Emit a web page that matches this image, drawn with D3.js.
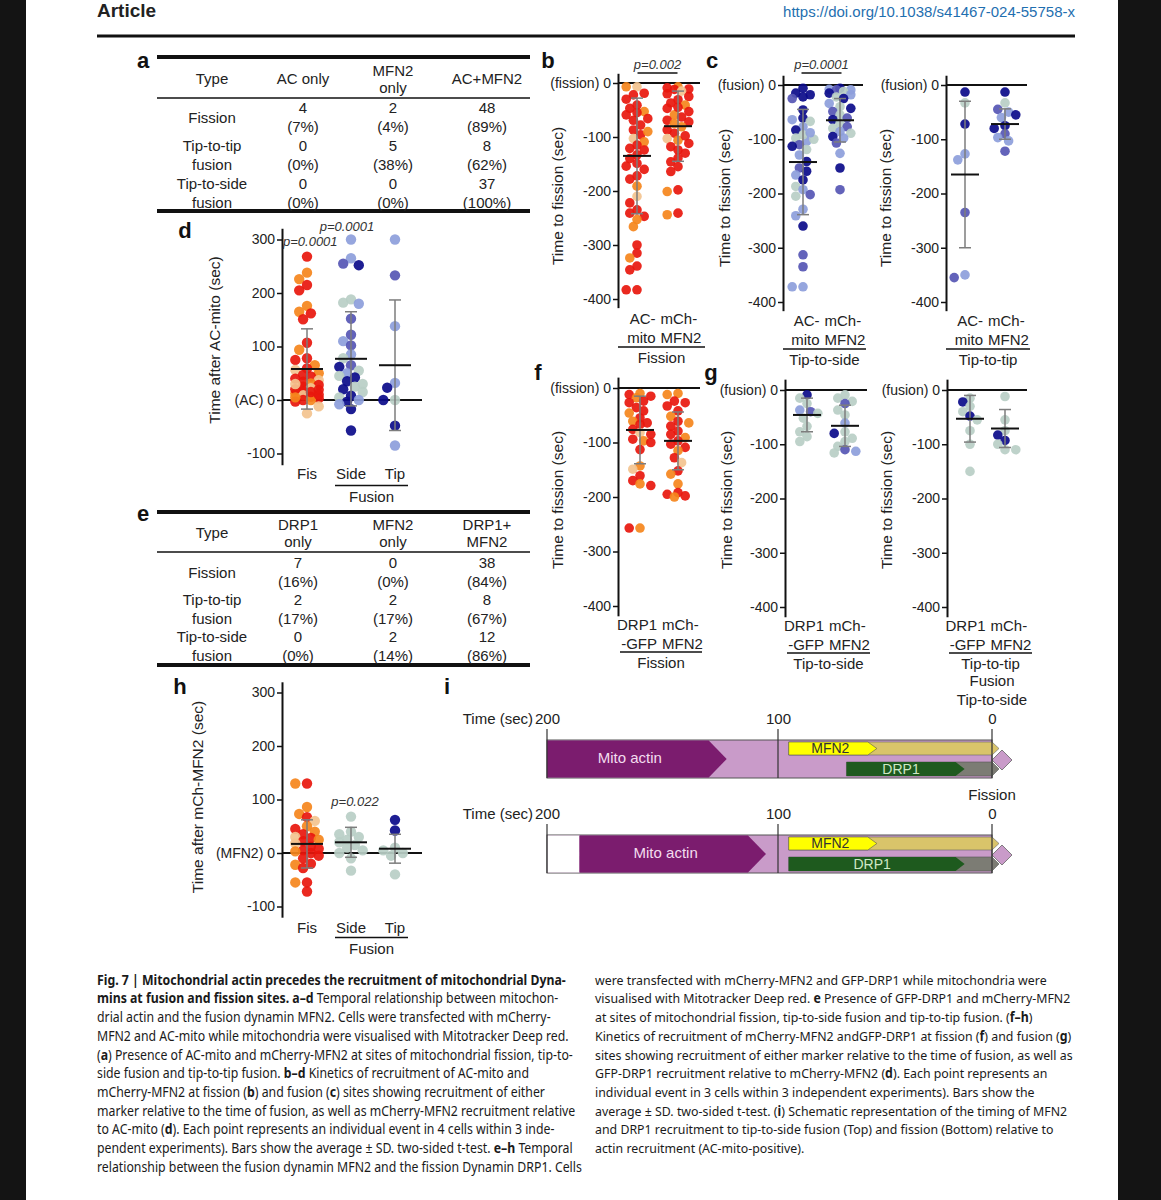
<!DOCTYPE html>
<html>
<head>
<meta charset="utf-8">
<script src="https://cdn.jsdelivr.net/npm/d3@7"></script>
<style>
body { margin: 0; background: #141414; }
svg { display: block; }
</style>
</head>
<body>
<svg id="fig"></svg>
<script>
// ---- data ----
// tables a and e
var tableAHead = ['Type', 'AC only', 'MFN2\nonly', 'AC+MFN2'];
var tableERHead = ['Type', 'DRP1\nonly', 'MFN2\nonly', 'DRP1+\nMFN2'];
var eventTypes = ['Fission', 'Tip-to-tip\nfusion', 'Tip-to-side\nfusion'];
var tableACounts = [[4, 2, 48], [0, 5, 8], [0, 0, 37]];
var tableAPct = [[7, 4, 89], [0, 38, 62], [0, 0, 100]];
var tableECounts = [[7, 0, 38], [2, 2, 8], [0, 2, 12]];
var tableEPct = [[16, 0, 84], [17, 17, 67], [0, 14, 86]];

// cell colour index: red set 0 red,1 orange,2 tan ; blue set 0 navy,1 mid,2 light,3 grey-green
var bAcVals = [-7,-7,-19,-22,-41,-47,-53,-59,-66,-69,-78,-87,-96,-103,-109,-115,-121,-124,-133,-149,-154,-172,-178,-191,-210,-222,-235,-241,-247,-253,-266,-300,-315,-324,-339,-346,-383,-383,-30,-55,-90,-140,-160];
var bAcCells = [2,1,0,0,0,0,1,0,0,0,0,0,0,2,1,0,0,0,0,0,0,0,0,1,2,0,0,0,0,1,1,0,0,1,0,0,0,0,0,0,1,0,0];
var bMfnVals = [-7,-9,-11,-12,-15,-25,-31,-37,-41,-47,-53,-59,-63,-69,-72,-81,-87,-93,-103,-106,-112,-118,-124,-130,-139,-146,-155,-164,-198,-201,-241,-244,-20,-45,-75,-98];
var bMfnCells = [1,0,0,0,2,0,0,0,1,0,0,1,0,0,0,1,0,0,2,1,0,0,0,0,0,0,0,0,0,1,0,1,0,0,1,0];

var cSideAcVals = [-6,-15,-18,-22,-25,-46,-61,-64,-67,-77,-83,-98,-104,-110,-113,-119,-129,-141,-153,-159,-166,-175,-187,-193,-202,-205,-229,-241,-260,-313,-335,-372,-372,-92,-100,-88];
var cSideAcCells = [0,0,0,0,1,0,0,2,3,2,0,3,2,1,0,3,2,0,1,0,2,0,3,2,1,3,2,2,0,1,1,2,2,3,3,2];
var cSideMfnVals = [-6,-8,-9,-9,-12,-15,-18,-22,-25,-34,-40,-43,-49,-55,-61,-64,-71,-77,-80,-86,-89,-95,-98,-107,-126,-153,-193];
var cSideMfnCells = [0,2,2,1,3,0,2,3,0,2,3,0,1,3,1,0,3,1,3,2,3,0,2,1,2,0,1];
var cTipAcVals = [-13,-33,-72,-127,-138,-235,-350,-355];
var cTipAcCells = [0,3,0,2,2,1,2,1];
var cTipMfnVals = [-13,-33,-45,-50,-55,-60,-75,-80,-90,-97,-103,-122];
var cTipMfnCells = [0,3,1,2,0,2,0,0,1,2,2,1];

var fDrpVals = [-10,-12,-15,-18,-24,-27,-36,-42,-46,-55,-61,-64,-67,-76,-82,-85,-94,-97,-100,-113,-143,-149,-161,-170,-176,-179,-257,-257];
var fDrpCells = [1,0,0,1,0,0,0,0,1,0,1,0,0,0,2,0,0,1,0,0,1,2,0,0,1,0,1,0];
var fMfnVals = [-10,-12,-24,-27,-33,-42,-52,-61,-64,-70,-79,-85,-91,-97,-103,-109,-115,-128,-137,-152,-158,-176,-192,-195,-198,-200];
var fMfnCells = [1,1,0,0,0,0,1,0,1,0,0,0,1,0,0,0,1,0,2,0,1,1,0,0,0,1];
var gSideDrpVals = [-9,-15,-25,-37,-40,-43,-52,-67,-77,-86,-95];
var gSideDrpCells = [0,3,3,2,1,3,3,3,3,3,3];
var gSideMfnVals = [-9,-15,-21,-25,-37,-46,-61,-77,-80,-89,-95,-104,-110,-113,-116];
var gSideMfnCells = [3,3,3,1,3,3,2,3,0,3,3,3,1,2,3];
var gTipDrpVals = [-15,-22,-30,-40,-48,-55,-75,-100,-150];
var gTipDrpCells = [3,0,3,3,0,3,3,3,3];
var gTipMfnVals = [-12,-55,-75,-83,-93,-100,-110,-110];
var gTipMfnCells = [3,3,3,0,0,3,3,3];

var dFisVals = [268,238,226,215,205,176,165,162,151,107,94,78,75,65,59,56,50,47,44,37,34,31,28,25,22,19,16,12,9,6,3,0,0,-3,-12,-25,40,20,10,5,30,15];
var dFisCells = [0,1,1,0,0,1,1,0,0,0,1,0,0,1,0,2,1,0,0,2,0,1,0,0,2,0,0,1,2,0,0,0,1,0,2,2,0,0,0,1,2,0];
var dSideVals = [300,265,252,255,188,182,180,152,122,110,102,85,78,65,62,55,50,45,42,35,30,25,20,15,8,5,0,-3,-8,-17,-57];
var dSideCells = [2,2,0,1,3,3,2,1,1,2,1,2,3,1,0,3,2,3,0,0,3,3,0,3,0,3,2,0,2,0,0];
var dTipVals = [300,233,138,32,23,0,0,-48,-85];
var dTipCells = [2,1,2,2,0,3,0,0,2];

var hFisVals = [130,130,86,73,67,60,50,45,40,35,30,28,25,22,18,12,8,5,3,0,-5,-10,-20,-22,-28,-55,-55,-72];
var hFisCells = [0,1,1,1,0,2,1,0,1,0,2,0,1,0,2,0,0,0,1,0,0,0,0,1,0,0,1,0];
var hSideVals = [68,40,35,30,25,20,15,10,5,0,-10,-33];
var hSideCells = [3,3,3,3,3,3,3,3,3,3,3,3];
var hTipVals = [62,42,10,5,0,-5,-40];
var hTipCells = [0,0,3,3,3,3,3];

// mean and SD per column
var bStats = [[-135, 107], [-80, 65]];
var cSideStats = [[-142, 97], [-65, 40]];
var cTipStats = [[-165, 135], [-72, 28]];
var fStats = [[-77, 62], [-97, 53]];
var gSideStats = [[-46, 31], [-66, 38]];
var gTipStats = [[-53, 43], [-71, 35]];
var dStats = [[58, 75], [77, 88], [65, 122]];
var hStats = [[17, 45], [20, 28], [8, 27]];

var negTicks = [-400, -300, -200, -100, 0];
var posTicks = [-100, 0, 100, 200, 300];

// schematic (i): times in sec before the event
var timelineRows = ['Tip-to-side fusion', 'Fission'];
var timeTicks = [200, 100, 0];
var actinStart = [200, 186];
var actinEnd = [130, 113];
var mfn2Start = [95, 95];
var mfn2End = [58, 58];
var drp1Start = [68, 95];
var drp1End = [17, 17];
var eventLabels = [['Fusion', 'Tip-to-side'], ['Fission']];

var captionLeft = [
  '**Fig. 7 | Mitochondrial actin precedes the recruitment of mitochondrial Dyna-**',
  '**mins at fusion and fission sites. a–d** Temporal relationship between mitochon-',
  'drial actin and the fusion dynamin MFN2. Cells were transfected with mCherry-',
  'MFN2 and AC-mito while mitochondria were visualised with Mitotracker Deep red.',
  '(**a**) Presence of AC-mito and mCherry-MFN2 at sites of mitochondrial fission, tip-to-',
  'side fusion and tip-to-tip fusion. **b–d** Kinetics of recruitment of AC-mito and',
  'mCherry-MFN2 at fission (**b**) and fusion (**c**) sites showing recruitment of either',
  'marker relative to the time of fusion, as well as mCherry-MFN2 recruitment relative',
  'to AC-mito (**d**). Each point represents an individual event in 4 cells within 3 inde-',
  'pendent experiments). Bars show the average ± SD. two-sided t-test. **e–h** Temporal',
  'relationship between the fusion dynamin MFN2 and the fission Dynamin DRP1. Cells'
];
var captionRight = [
  'were transfected with mCherry-MFN2 and GFP-DRP1 while mitochondria were',
  'visualised with Mitotracker Deep red. **e** Presence of GFP-DRP1 and mCherry-MFN2',
  'at sites of mitochondrial fission, tip-to-side fusion and tip-to-tip fusion. (**f–h**)',
  'Kinetics of recruitment of mCherry-MFN2 andGFP-DRP1 at fission (**f**) and fusion (**g**)',
  'sites showing recruitment of either marker relative to the time of fusion, as well as',
  'GFP-DRP1 recruitment relative to mCherry-MFN2 (**d**). Each point represents an',
  'individual event in 3 cells within 3 independent experiments). Bars show the',
  'average ± SD. two-sided t-test. (**i**) Schematic representation of the timing of MFN2',
  'and DRP1 recruitment to tip-to-side fusion (Top) and fission (Bottom) relative to',
  'actin recruitment (AC-mito-positive).'
];

// ---- drawing ----
var FONT = '"Liberation Sans", Arial, sans-serif';
var RED = ['#e8170d', '#f5851c', '#f3c38f'];
var BLUE = ['#0b0b8a', '#5656b4', '#8d9edb', '#b8cec6'];
var INK = '#222';

var svg = d3.select('#fig').attr('width', 1161).attr('height', 1200);
svg.append('rect').attr('width', 1161).attr('height', 1200).attr('fill', '#141414');
svg.append('rect').attr('x', 26).attr('width', 1092).attr('height', 1200).attr('fill', '#fff');

function txt(x, y, s, size, anchor) {
  return svg.append('text')
    .attr('x', x).attr('y', y).attr('dy', '0.35em')
    .attr('font-family', FONT)
    .attr('font-size', size || 15)
    .attr('fill', INK)
    .attr('text-anchor', anchor || 'middle')
    .text(s);
}
function hline(x1, x2, y, w) {
  svg.append('line').attr('x1', x1).attr('x2', x2).attr('y1', y).attr('y2', y)
    .attr('stroke', '#111').attr('stroke-width', w);
}

// header
txt(97, 10, 'Article', 19, 'start').attr('font-weight', 'bold');
txt(1075, 12, 'https://doi.org/10.1038/s41467-024-55758-x', 15, 'end').attr('fill', '#1f6fb0');
hline(97, 1075, 36, 3);

// panel letters
[['a', 143, 60], ['b', 548, 60], ['c', 712, 60], ['d', 185, 230], ['e', 143, 513],
 ['f', 538, 372], ['g', 711, 372], ['h', 180, 686], ['i', 447, 686]].forEach(function (p) {
  txt(p[1], p[2], p[0], 22).attr('font-weight', 'bold').attr('fill', '#111');
});

// tables
function drawTable(head, counts, pct, cfg) {
  var colX = cfg.colX;
  hline(157, 530, cfg.top, 4);
  hline(157, 530, cfg.thin, 1.5);
  hline(157, 530, cfg.bottom, 4);
  head.forEach(function (h, i) {
    var lines = h.split('\n');
    lines.forEach(function (l, j) {
      txt(colX[i], cfg.headY + (j - (lines.length - 1) / 2) * 17, l, 15);
    });
  });
  eventTypes.forEach(function (t, r) {
    var y1 = cfg.rowY0 + r * cfg.pitch;
    var lines = t.split('\n');
    lines.forEach(function (l, j) {
      txt(colX[0], lines.length === 1 ? y1 + 10 : y1 + j * 18.5, l, 15);
    });
    counts[r].forEach(function (c, k) {
      txt(colX[k + 1], y1, String(c), 15);
      txt(colX[k + 1], y1 + 19, '(' + pct[r][k] + '%)', 15);
    });
  });
}
drawTable(tableAHead, tableACounts, tableAPct,
  {colX: [212, 303, 393, 487], top: 57, thin: 98, bottom: 211, headY: 79, rowY0: 108, pitch: 38});
drawTable(tableERHead, tableECounts, tableEPct,
  {colX: [212, 298, 393, 487], top: 512, thin: 552, bottom: 665, headY: 533, rowY0: 563, pitch: 37});

// beeswarm-like horizontal offsets, overlap allowed
function swarm(vals, y, r) {
  var placed = [];
  var offs = new Array(vals.length);
  var cands = [0, -1, 1, -2, 2, -3, 3].map(function (k) { return k * r * 0.75; });
  var order = d3.range(vals.length).sort(function (a, b) { return d3.descending(vals[a], vals[b]); });
  order.forEach(function (i) {
    var py = y(vals[i]);
    var best = 0, bestCost = Infinity;
    cands.forEach(function (dx) {
      var cost = Math.abs(dx) * 0.12;
      placed.forEach(function (p) {
        var d = Math.hypot(p.x - dx, p.y - py);
        if (d < 1.7 * r) cost += 1.7 * r - d;
      });
      if (cost < bestCost) { bestCost = cost; best = dx; }
    });
    offs[i] = best;
    placed.push({x: best, y: py});
  });
  return offs;
}

function dotPanel(cfg) {
  var y = d3.scaleLinear()
    .domain([cfg.lo, cfg.hi])
    .range([cfg.zeroY - cfg.lo * cfg.ppu, cfg.zeroY - cfg.hi * cfg.ppu]);
  var x = d3.scalePoint().domain(d3.range(cfg.cats.length)).range([cfg.cats[0], cfg.cats[cfg.cats.length - 1]]);
  var g = svg.append('g');

  // zero line
  g.append('line').attr('x1', cfg.axisX).attr('x2', cfg.end)
    .attr('y1', y(0)).attr('y2', y(0)).attr('stroke', '#111').attr('stroke-width', 2);

  var ax = g.append('g').attr('transform', 'translate(' + cfg.axisX + ',0)')
    .call(d3.axisLeft(y).tickValues(cfg.ticks).tickSize(5).tickSizeOuter(0).tickPadding(2)
      .tickFormat(function (d) { return d === 0 ? cfg.zeroLabel + ' 0' : String(d); }));
  ax.attr('font-family', FONT).attr('font-size', 14);
  ax.select('.domain').attr('stroke', '#111').attr('stroke-width', 2);
  ax.selectAll('.tick line').attr('stroke', '#111').attr('stroke-width', 1.5);
  ax.selectAll('.tick text').attr('fill', INK);

  // points
  cfg.series.forEach(function (s, i) {
    var offs = swarm(s.vals, y, cfg.r);
    var pal = s.pal;
    g.append('g').selectAll('circle')
      .data(s.vals)
      .enter()
      .append('circle')
      .attr('cx', function (d, k) { return x(i) + offs[k]; })
      .attr('cy', function (d) { return y(d); })
      .attr('r', cfg.r)
      .attr('fill', function (d, k) { return pal[s.cells[k]]; })
      .attr('fill-opacity', 0.92);
  });

  // mean +- SD
  cfg.stats.forEach(function (st, i) {
    var cx = x(i);
    var eb = g.append('g').attr('stroke', '#7d7d7d').attr('stroke-width', 1.5);
    eb.append('line').attr('x1', cx).attr('x2', cx).attr('y1', y(st[0] - st[1])).attr('y2', y(st[0] + st[1]));
    [st[0] - st[1], st[0] + st[1]].forEach(function (v) {
      eb.append('line').attr('x1', cx - 6).attr('x2', cx + 6).attr('y1', y(v)).attr('y2', y(v));
    });
    g.append('line').attr('x1', cx - cfg.meanW / 2).attr('x2', cx + cfg.meanW / 2)
      .attr('y1', y(st[0])).attr('y2', y(st[0])).attr('stroke', '#111').attr('stroke-width', 2);
  });

  // axis title
  svg.append('text')
    .attr('transform', 'translate(' + cfg.titleX + ',' + cfg.titleY + ') rotate(-90)')
    .attr('dy', '0.35em')
    .attr('text-anchor', 'middle')
    .attr('font-family', FONT).attr('font-size', 15.5).attr('fill', INK)
    .text(cfg.title);

  // category labels
  var base = y(cfg.ticks[0]);
  var n = cfg.catLabels.length;
  cfg.catLabels.forEach(function (lab, i) {
    lab.forEach(function (l, j) {
      if (n === 2) {
        var mid = (x(0) + x(1)) / 2;
        txt(i === 0 ? mid - 2 : mid + 3, base + cfg.labOff + j * 19, l, 15, i === 0 ? 'end' : 'start');
      } else {
        txt(x(i), base + cfg.labOff + j * 19, l, 15);
      }
    });
  });
  var lx1 = cfg.groupFrom, lx2 = cfg.groupTo;
  hline(lx1, lx2, base + cfg.lineOff, 1.5);
  cfg.group.forEach(function (l, j) {
    txt((lx1 + lx2) / 2, base + cfg.lineOff + 11 + j * 19, l, 15);
  });

  // p value
  if (cfg.p) {
    var px = cfg.p.x !== undefined ? cfg.p.x : (x(0) + x(1)) / 2;
    txt(px, cfg.p.y, cfg.p.text, 13, cfg.p.anchor || 'middle')
      .attr('font-style', 'italic').attr('fill', '#333');
    if (cfg.p.line) hline(px - 20, px + 20, cfg.p.y + 9, 1.5);
  }
  return {x: x, y: y};
}

var twoCat = [['AC-', 'mito'], ['mCh-', 'MFN2']];
var drpCat = [['DRP1', '-GFP'], ['mCh-', 'MFN2']];
var threeCat = [['Fis'], ['Side'], ['Tip']];

dotPanel({axisX: 618, zeroY: 83, ppu: 0.54, lo: -416, hi: 18, ticks: negTicks, cats: [637, 678], end: 700,
  zeroLabel: '(fission)', r: 4.8, meanW: 28,
  series: [{vals: bAcVals, cells: bAcCells, pal: RED}, {vals: bMfnVals, cells: bMfnCells, pal: RED}],
  stats: bStats, title: 'Time to fission (sec)', titleX: 558, titleY: 196,
  catLabels: twoCat, labOff: 20, lineOff: 48, groupFrom: 618, groupTo: 705, group: ['Fission'],
  p: {text: 'p=0.002', y: 64, line: true}});
dotPanel({axisX: 783, zeroY: 85, ppu: 0.5425, lo: -416, hi: 18, ticks: negTicks, cats: [803, 840], end: 863,
  zeroLabel: '(fusion)', r: 4.8, meanW: 28,
  series: [{vals: cSideAcVals, cells: cSideAcCells, pal: BLUE}, {vals: cSideMfnVals, cells: cSideMfnCells, pal: BLUE}],
  stats: cSideStats, title: 'Time to fission (sec)', titleX: 725, titleY: 198,
  catLabels: twoCat, labOff: 19, lineOff: 47, groupFrom: 783, groupTo: 866, group: ['Tip-to-side'],
  p: {text: 'p=0.0001', y: 64, line: true}});
dotPanel({axisX: 946, zeroY: 85, ppu: 0.5425, lo: -416, hi: 18, ticks: negTicks, cats: [965, 1005], end: 1027,
  zeroLabel: '(fusion)', r: 4.8, meanW: 28,
  series: [{vals: cTipAcVals, cells: cTipAcCells, pal: BLUE}, {vals: cTipMfnVals, cells: cTipMfnCells, pal: BLUE}],
  stats: cTipStats, title: 'Time to fission (sec)', titleX: 886, titleY: 198,
  catLabels: twoCat, labOff: 19, lineOff: 47, groupFrom: 946, groupTo: 1030, group: ['Tip-to-tip']});

dotPanel({axisX: 618, zeroY: 388, ppu: 0.545, lo: -418, hi: 20, ticks: negTicks, cats: [640, 678], end: 700,
  zeroLabel: '(fission)', r: 4.8, meanW: 28,
  series: [{vals: fDrpVals, cells: fDrpCells, pal: RED}, {vals: fMfnVals, cells: fMfnCells, pal: RED}],
  stats: fStats, title: 'Time to fission (sec)', titleX: 558, titleY: 500,
  catLabels: drpCat, labOff: 19, lineOff: 46, groupFrom: 620, groupTo: 702, group: ['Fission']});
dotPanel({axisX: 785, zeroY: 390, ppu: 0.5425, lo: -418, hi: 20, ticks: negTicks, cats: [807, 845], end: 867,
  zeroLabel: '(fusion)', r: 4.8, meanW: 28,
  series: [{vals: gSideDrpVals, cells: gSideDrpCells, pal: BLUE}, {vals: gSideMfnVals, cells: gSideMfnCells, pal: BLUE}],
  stats: gSideStats, title: 'Time to fission (sec)', titleX: 727, titleY: 500,
  catLabels: drpCat, labOff: 19, lineOff: 46, groupFrom: 787, groupTo: 870, group: ['Tip-to-side']});
dotPanel({axisX: 947, zeroY: 390, ppu: 0.5425, lo: -418, hi: 20, ticks: negTicks, cats: [970, 1005], end: 1027,
  zeroLabel: '(fusion)', r: 4.8, meanW: 28,
  series: [{vals: gTipDrpVals, cells: gTipDrpCells, pal: BLUE}, {vals: gTipMfnVals, cells: gTipMfnCells, pal: BLUE}],
  stats: gTipStats, title: 'Time to fission (sec)', titleX: 887, titleY: 500,
  catLabels: drpCat, labOff: 19, lineOff: 46, groupFrom: 949, groupTo: 1032, group: ['Tip-to-tip']});

dotPanel({axisX: 282, zeroY: 400, ppu: 0.535, lo: -121, hi: 321, ticks: posTicks, cats: [307, 353, 395], end: 422,
  zeroLabel: '(AC)', r: 5.2, meanW: 32,
  series: [{vals: dFisVals, cells: dFisCells, pal: RED}, {vals: dSideVals, cells: dSideCells, pal: BLUE},
           {vals: dTipVals, cells: dTipCells, pal: BLUE}],
  stats: dStats, title: 'Time after AC-mito (sec)', titleX: 215, titleY: 340,
  catLabels: threeCat, labOff: 20, lineOff: 32, groupFrom: 335, groupTo: 408, group: ['Fusion'],
  p: {text: 'p=0.0001', x: 347, y: 226}});
txt(283, 241, 'p=0.0001', 13, 'start').attr('font-style', 'italic').attr('fill', '#333');

dotPanel({axisX: 282, zeroY: 853, ppu: 0.535, lo: -120, hi: 320, ticks: posTicks, cats: [307, 353, 395], end: 422,
  zeroLabel: '(MFN2)', r: 5.2, meanW: 32,
  series: [{vals: hFisVals, cells: hFisCells, pal: RED}, {vals: hSideVals, cells: hSideCells, pal: BLUE},
           {vals: hTipVals, cells: hTipCells, pal: BLUE}],
  stats: hStats, title: 'Time after mCh-MFN2 (sec)', titleX: 198, titleY: 797,
  catLabels: threeCat, labOff: 21, lineOff: 31, groupFrom: 335, groupTo: 408, group: ['Fusion'],
  p: {text: 'p=0.022', x: 355, y: 801}});

// ---- panel i schematic ----
var tl = d3.scaleLinear().domain(timeTicks).range([547, 778, 992]);
function arrow(x0, x1, y, h, tip) {
  return 'M' + x0 + ',' + y + 'H' + x1 + 'L' + (x1 + tip) + ',' + (y + h / 2) + 'L' + x1 + ',' + (y + h) + 'H' + x0 + 'Z';
}
var rowTop = [740, 835];
timelineRows.forEach(function (row, i) {
  var top = rowTop[i], h = 38;
  var g = svg.append('g');
  var x200 = tl(200), x0 = tl(0);
  // axis labels
  var ax = g.append('g').attr('transform', 'translate(0,' + (top - 21) + ')')
    .call(d3.axisTop(tl).tickValues(timeTicks).tickSize(0).tickPadding(0).tickFormat(d3.format('d')));
  ax.attr('font-family', FONT).attr('font-size', 15);
  ax.select('.domain').remove();
  ax.selectAll('.tick text').attr('fill', INK).attr('dy', '0.35em');
  txt(x200 - 14, top - 21, 'Time (sec)', 15, 'end');
  eventLabels[i].forEach(function (l, j) {
    txt(x0, top - 21 - (eventLabels[i].length - j) * 19, l, 15);
  });
  // diamond at the event
  g.append('path')
    .attr('d', 'M' + x0 + ',' + (top + 20) + 'l10,-10l10,10l-10,10z')
    .attr('fill', '#c99bc9').attr('stroke', '#666').attr('stroke-width', 0.8);
  // background bar
  g.append('rect').attr('x', x200).attr('y', top).attr('width', x0 - x200).attr('height', h)
    .attr('fill', '#c99bc9').attr('stroke', '#555').attr('stroke-width', 1);
  if (actinStart[i] < 200) {
    g.append('rect').attr('x', x200 + 0.5).attr('y', top + 0.5)
      .attr('width', tl(actinStart[i]) - x200).attr('height', h - 1).attr('fill', '#fff');
  }
  g.append('path').attr('d', arrow(tl(actinStart[i]), tl(actinEnd[i]), top + 0.5, h - 1, 18)).attr('fill', '#7b1c6e');
  txt((tl(actinStart[i]) + tl(actinEnd[i])) / 2 + 2, top + 18, 'Mito actin', 15).attr('fill', '#f3dcef');
  // MFN2 track
  g.append('path').attr('d', arrow(tl(mfn2Start[i]), x0, top + 2, 13, 7)).attr('fill', '#d9c46a').attr('stroke', '#666').attr('stroke-width', 0.6);
  g.append('path').attr('d', arrow(tl(mfn2Start[i]), tl(mfn2End[i]), top + 2, 13, 9)).attr('fill', '#ffff00').attr('stroke', '#555').attr('stroke-width', 0.6);
  txt((tl(mfn2Start[i]) + tl(mfn2End[i])) / 2 + 2, top + 8.5, 'MFN2', 14).attr('fill', '#333');
  // DRP1 track
  g.append('path').attr('d', arrow(tl(drp1Start[i]), x0, top + 22, 14, 7)).attr('fill', '#7c7c74').attr('stroke', '#555').attr('stroke-width', 0.6);
  g.append('path').attr('d', arrow(tl(drp1Start[i]), tl(drp1End[i]), top + 22, 14, 9)).attr('fill', '#1e5a1e');
  txt((tl(drp1Start[i]) + tl(drp1End[i])) / 2, top + 29, 'DRP1', 14).attr('fill', '#cfe8c5');
  // tick lines
  timeTicks.forEach(function (t) {
    g.append('line').attr('x1', tl(t)).attr('x2', tl(t)).attr('y1', top - 11).attr('y2', top + h)
      .attr('stroke', '#333').attr('stroke-width', 1.2);
  });
});

// ---- caption ----
function caption(lines, x, y0, width) {
  var g = svg.append('g');
  var texts = lines.map(function (line, k) {
    var t = g.append('text').attr('x', 0).attr('y', y0 + k * 18.7).attr('dy', '0.35em')
      .attr('font-family', '"Noto Sans", sans-serif').attr('font-size', 13.5).attr('fill', '#1a1a1a');
    line.split('**').forEach(function (seg, j) {
      if (seg === '') return;
      t.append('tspan').attr('font-weight', j % 2 ? 'bold' : 'normal').text(seg);
    });
    return t;
  });
  var maxW = d3.max(texts, function (t) { return t.node().getComputedTextLength(); });
  g.attr('transform', 'translate(' + x + ',0) scale(' + (width / maxW) + ',1)');
}
caption(captionLeft, 97, 980, 485);
caption(captionRight, 595, 980, 478);
</script>
</body>
</html>
